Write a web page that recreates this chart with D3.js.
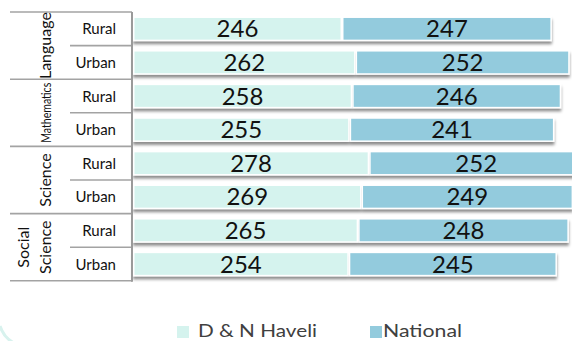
<!DOCTYPE html>
<html><head><meta charset="utf-8">
<script src="https://cdn.jsdelivr.net/npm/d3@7"></script>
<style>
html,body{margin:0;padding:0;background:#fff;}
svg{display:block;}
text{font-family:Lato,"Open Sans",sans-serif;}
</style></head>
<body>
<svg id="chart" width="572" height="341"></svg>
<script>
// Subjects, each split into rural and urban rows
const subjects = ["Language", "Mathematics", "Science", "Social Science"];
const areas = ["Rural", "Urban"];
const seriesNames = ["D & N Haveli", "National"];
const dnHaveli = [246, 262, 258, 255, 278, 269, 265, 254];
const national = [247, 252, 246, 241, 252, 249, 248, 245];
const colors = ["#d5f3ee", "#93cbdd"];

const rows = [];
subjects.forEach((s, i) => areas.forEach((a, j) => rows.push({
  subject: s, area: a, key: s + "|" + a,
  vals: [dnHaveli[i * 2 + j], national[i * 2 + j]]
})));

const svg = d3.select("#chart");
const topY = 12, rowH = 33.6, axisX = 132;
const bottomY = topY + rowH * rows.length;

const y = d3.scaleBand().domain(rows.map(r => r.key))
  .range([topY, bottomY]).paddingInner(0.31).paddingOuter(0.155);
const x = d3.scaleLinear().domain([0, 530]).range([133, 583.3]);

const defs = svg.append("defs");
const f = defs.append("filter").attr("id", "shadow")
  .attr("x", "-5%").attr("y", "-30%").attr("width", "110%").attr("height", "180%");
f.append("feDropShadow").attr("dx", 0).attr("dy", 3).attr("stdDeviation", 1.4)
  .attr("flood-color", "#000").attr("flood-opacity", 0.45);

// decorative corner arc
svg.append("path")
  .attr("d", "M0,326 Q4,338 14,343")
  .attr("fill", "none").attr("stroke", "#d8f2ee").attr("stroke-width", 3);

// stacked bars
const g = svg.append("g");
rows.forEach(r => {
  let acc = 0;
  const segs = r.vals.map((v, k) => { const s = { k, v, x0: acc, x1: acc + v }; acc += v; return s; });
  const rg = g.append("g").attr("filter", "url(#shadow)");
  rg.selectAll("rect").data(segs).join("rect")
    .attr("x", d => x(d.x0) + 0.75)
    .attr("y", y(r.key))
    .attr("width", d => x(d.x1) - x(d.x0) - 1.5)
    .attr("height", y.bandwidth())
    .attr("fill", d => colors[d.k])
    .attr("stroke", "#fff").attr("stroke-width", 1.5);
  g.selectAll(null).data(segs).join("text")
    .attr("x", d => (x(d.x0) + x(d.x1)) / 2)
    .attr("y", y(r.key) + y.bandwidth() / 2 + 8.5)
    .attr("text-anchor", "middle")
    .attr("font-size", 24)
    .attr("fill", "#111")
    .text(d => d.v);
});

// category grid on the left
const grid = svg.append("g").attr("stroke", "#a3a3a3").attr("stroke-width", 1.6);
subjects.forEach((s, i) => {
  const yy = topY + i * 2 * rowH;
  grid.append("line").attr("x1", 10).attr("x2", axisX).attr("y1", yy).attr("y2", yy);
  grid.append("line").attr("x1", 70).attr("x2", axisX).attr("y1", yy + rowH).attr("y2", yy + rowH);
});
grid.append("line").attr("x1", 10).attr("x2", axisX).attr("y1", bottomY).attr("y2", bottomY);
grid.append("line").attr("x1", axisX).attr("x2", axisX).attr("y1", topY).attr("y2", bottomY + 1)
  .attr("stroke", "#9a9a9a").attr("stroke-width", 2);

// area labels
svg.selectAll(".area").data(rows).join("text")
  .attr("class", "area")
  .attr("x", 116)
  .attr("y", d => y(d.key) + y.bandwidth() / 2 + 5.5)
  .attr("text-anchor", "end")
  .attr("font-size", 15)
  .attr("fill", "#111")
  .text(d => d.area);

// subject labels, rotated
const subjLines = {
  "Language": [{ t: "Language", dx: 0 }],
  "Mathematics": [{ t: "Mathematics", dx: 0, size: 13, len: 60 }],
  "Science": [{ t: "Science", dx: 0 }],
  "Social Science": [{ t: "Social", dx: -22 }, { t: "Science", dx: 0 }]
};
subjects.forEach((s, i) => {
  const cy = topY + (i * 2 + 1) * rowH;
  subjLines[s].forEach(l => {
    const t = svg.append("text")
      .attr("transform", `translate(${51 + l.dx},${cy}) rotate(-90)`)
      .attr("text-anchor", "middle")
      .attr("font-size", l.size || 16)
      .attr("fill", "#111")
      .text(l.t);
    if (l.len) t.attr("textLength", l.len).attr("lengthAdjust", "spacingAndGlyphs");
  });
});

// legend
const legendX = [177, 370];
const legendLen = [119, 79];
const lg = svg.append("g");
seriesNames.forEach((n, k) => {
  lg.append("rect").attr("x", legendX[k]).attr("y", 326).attr("width", 12).attr("height", 12)
    .attr("fill", colors[k]);
  lg.append("text").attr("x", legendX[k] + (k ? 13 : 21)).attr("y", 336.5)
    .attr("font-size", 18).attr("fill", "#404040")
    .attr("textLength", legendLen[k]).attr("lengthAdjust", "spacingAndGlyphs")
    .text(n);
});
</script>
</body></html>
